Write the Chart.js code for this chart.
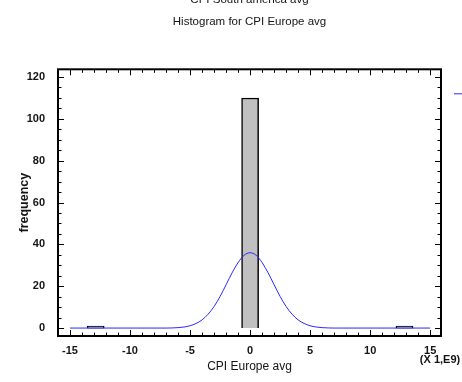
<!DOCTYPE html>
<html>
<head>
<meta charset="utf-8">
<script src="https://cdn.jsdelivr.net/npm/chart.js@4.4.1/dist/chart.umd.min.js"></script>
<style>
  html, body { margin: 0; padding: 0; background: #fff; overflow: hidden; }
  #wrap { position: absolute; left: 0; top: -20px; width: 462px; height: 402px; }
</style>
</head>
<body>
<div id="wrap"><canvas id="hist"></canvas></div>
<script>
// histogram bins (21 classes between -15 and 15, units of 1E9)
const binCenters = [-14.29, -12.86, -11.43, -10.00, -8.57, -7.14, -5.71, -4.29, -2.86, -1.43, 0,
                    1.43, 2.86, 4.29, 5.71, 7.14, 8.57, 10.00, 11.43, 12.86, 14.29];
const binCounts = [0, 1, 0, 0, 0, 0, 0, 0, 0, 0, 110, 0, 0, 0, 0, 0, 0, 0, 0, 1, 0];

// fitted normal curve
const curveX = [-15, -7, -6, -5.5, -5, -4.5, -4, -3.5, -3, -2.5, -2, -1.5, -1, -0.5, 0,
                0.5, 1, 1.5, 2, 2.5, 3, 3.5, 4, 4.5, 5, 5.5, 6, 7, 15];
const curveY = [0, 0, 0.2, 0.5, 1.1, 2.2, 3.9, 6.6, 10.3, 15.1, 20.7, 26.4, 31.3, 34.8, 36,
                34.8, 31.3, 26.4, 20.7, 15.1, 10.3, 6.6, 3.9, 2.2, 1.1, 0.5, 0.2, 0, 0];

const mainTitle = 'CPI South america avg';
const subTitle = 'Histogram for CPI Europe avg';
const xTitle = 'CPI Europe avg';
const yTitle = 'frequency';
const xScaleNote = '(X 1,E9)';

const FONT = "'Liberation Sans Narrow', 'Liberation Sans', Arial, sans-serif";
const INK = '#141414';

// box round the plot with inward ticks on all four sides, plus the cut legend mark
const framePlugin = {
    id: 'frame',
    afterDraw(chart) {
        const ctx = chart.ctx;
        const a = chart.chartArea;
        const xs = chart.scales.x;
        const ys = chart.scales.y;
        ctx.save();
        ctx.strokeStyle = '#000';
        ctx.lineWidth = 2;
        ctx.strokeRect(a.left, a.top, a.right - a.left, a.bottom - a.top);

        ctx.lineWidth = 1;
        ctx.beginPath();
        for (let v = -15; v <= 15; v++) {
            const px = Math.round(xs.getPixelForValue(v)) + 0.5;
            const len = v % 5 === 0 ? 6 : 3.5;
            ctx.moveTo(px, a.bottom);
            ctx.lineTo(px, a.bottom - len);
            ctx.moveTo(px, a.top);
            ctx.lineTo(px, a.top + len);
        }
        for (let v = 0; v <= 120; v += 5) {
            const py = Math.round(ys.getPixelForValue(v)) + 0.5;
            const len = v % 20 === 0 ? 6 : 3.5;
            ctx.moveTo(a.left, py);
            ctx.lineTo(a.left + len, py);
            ctx.moveTo(a.right, py);
            ctx.lineTo(a.right - len, py);
        }
        ctx.stroke();

        // legend entry, cut by the window edge
        ctx.strokeStyle = 'rgb(40,40,255)';
        ctx.beginPath();
        ctx.moveTo(a.right + 13, a.top + 24.5);
        ctx.lineTo(a.right + 30, a.top + 24.5);
        ctx.stroke();

        ctx.fillStyle = INK;
        ctx.font = 'bold 11px ' + FONT;
        ctx.textAlign = 'center';
        ctx.textBaseline = 'middle';
        ctx.fillText(xScaleNote, a.right - 1, a.bottom + 24);
        ctx.restore();
    }
};

const histData = binCenters.map((c, i) => ({ x: c, y: binCounts[i] > 0 ? binCounts[i] : null }));
const curveData = curveX.map((x, i) => ({ x: x, y: curveY[i] }));

new Chart(document.getElementById('hist').getContext('2d'), {
    type: 'bar',
    data: {
        datasets: [
            {
                type: 'line',
                label: 'Normal',
                data: curveData,
                borderColor: 'rgb(40,40,255)',
                borderWidth: 1,
                pointRadius: 0,
                cubicInterpolationMode: 'monotone',
                fill: false,
                order: 0
            },
            {
                label: 'CPI Europe avg',
                data: histData,
                backgroundColor: '#c0c0c0',
                borderColor: '#000',
                borderWidth: 1.5,
                borderSkipped: 'start',
                barPercentage: 1,
                categoryPercentage: 1,
                order: 1
            }
        ]
    },
    options: {
        responsive: true,
        maintainAspectRatio: false,
        animation: false,
        layout: { padding: { left: 0, right: 21, top: 0, bottom: 0 } },
        plugins: {
            legend: { display: false },
            tooltip: { enabled: false },
            title: {
                display: true,
                text: mainTitle,
                fullSize: false,
                color: INK,
                font: { family: FONT, size: 11.5, weight: 'normal', lineHeight: 1.2 },
                padding: { top: 13, bottom: 8.6 }
            },
            subtitle: {
                display: true,
                text: subTitle,
                fullSize: false,
                color: INK,
                font: { family: FONT, size: 11.5, weight: 'normal', lineHeight: 1.2 },
                padding: { top: 0, bottom: 40.1 }
            }
        },
        scales: {
            x: {
                type: 'linear',
                min: -16,
                max: 15.9,
                offset: false,
                grid: { display: false },
                border: { display: false },
                ticks: {
                    stepSize: 5,
                    includeBounds: false,
                    padding: 0,
                    color: INK,
                    font: { family: FONT, size: 11, weight: 'bold' }
                },
                title: {
                    display: true,
                    text: xTitle,
                    color: INK,
                    font: { family: FONT, size: 12, weight: 'normal', lineHeight: 1.2 },
                    padding: { top: 0, bottom: 8 }
                },
                afterFit(scale) { scale.height = 46; }
            },
            y: {
                type: 'linear',
                min: -3.8,
                max: 123.7,
                grid: { display: false },
                border: { display: false },
                ticks: {
                    stepSize: 20,
                    includeBounds: false,
                    padding: 5,
                    color: INK,
                    font: { family: FONT, size: 11, weight: 'bold' }
                },
                title: {
                    display: true,
                    text: yTitle,
                    color: INK,
                    font: { family: FONT, size: 12.5, weight: 'bold', lineHeight: 1.2 },
                    padding: { top: 17.5, bottom: 0 }
                },
                afterFit(scale) { scale.width = 58; }
            }
        }
    },
    plugins: [framePlugin]
});
</script>
</body>
</html>
